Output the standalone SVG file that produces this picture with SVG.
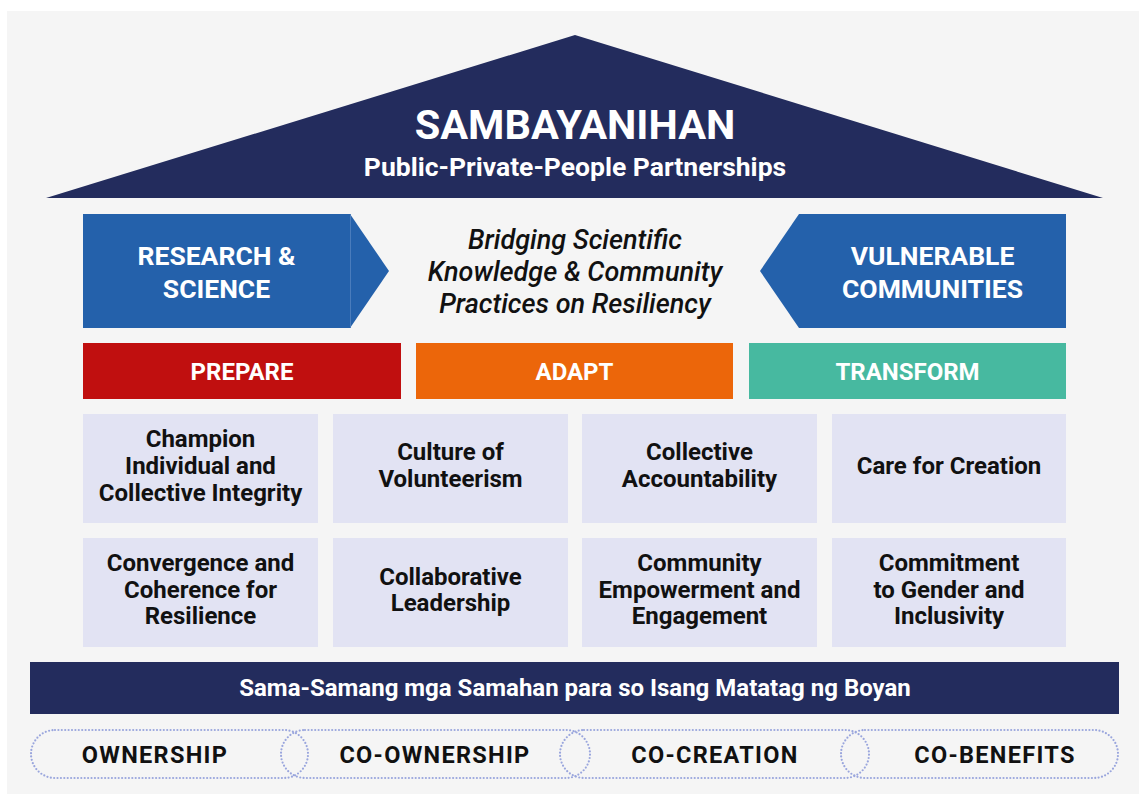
<svg xmlns="http://www.w3.org/2000/svg" width="1139" height="794" viewBox="0 0 1139 794">
<style>
text{font-family:Roboto,"Liberation Sans",sans-serif;font-weight:700;text-anchor:middle}
.w{fill:#ffffff}
.k{fill:#111111}
.cell{fill:#e2e3f3}
.ct{font-size:24px;fill:#111111}
.bt{font-size:26.5px;fill:#ffffff}
.pt{font-size:24px;fill:#ffffff}
.it{font-size:27px;font-style:italic;font-weight:500;fill:#111111}
.pill{fill:none;stroke:#9aa6dd;stroke-width:2.2;stroke-linecap:round;stroke-dasharray:0 3.4}
.pl{font-size:23.5px;fill:#111111;letter-spacing:1.3px}
</style>
<rect x="0" y="0" width="1139" height="794" fill="#ffffff"/>
<rect x="7" y="11" width="1132" height="783" fill="#f5f5f5"/>

<g id="roof">
<polygon points="575,35 1103,198 46,198" fill="#232c5d"/>
<text x="575" y="139" class="w" style="font-size:41.5px">SAMBAYANIHAN</text>
<text x="575" y="176" class="w" style="font-size:26.5px">Public-Private-People Partnerships</text>
</g>

<g id="research">
<rect x="83" y="214" width="267" height="114" fill="#2461ab"/>
<polygon points="350,214 389,271 350,328" fill="#2461ab"/>
<line x1="350.5" y1="214" x2="350.5" y2="328" stroke="#4a7cbc" stroke-width="1"/>
<text x="216.5" y="265" class="bt">RESEARCH &amp;</text>
<text x="216.5" y="298" class="bt">SCIENCE</text>
</g>

<g id="bridging">
<text x="575" y="249" class="it">Bridging Scientific</text>
<text x="575" y="281" class="it">Knowledge &amp; Community</text>
<text x="575" y="313" class="it">Practices on Resiliency</text>
</g>

<g id="vulnerable">
<polygon points="799,214 1066,214 1066,328 799,328 760,271" fill="#2461ab"/>
<text x="932.5" y="265" class="bt">VULNERABLE</text>
<text x="932.5" y="298" class="bt">COMMUNITIES</text>
</g>

<g id="prepare">
<rect x="83" y="343" width="318" height="56" fill="#c00f0f"/>
<text x="242" y="380" class="pt">PREPARE</text>
</g>
<g id="adapt">
<rect x="416" y="343" width="317" height="56" fill="#ec660a"/>
<text x="574.5" y="380" class="pt">ADAPT</text>
</g>
<g id="transform">
<rect x="749" y="343" width="317" height="56" fill="#47b9a0"/>
<text x="907.5" y="380" class="pt">TRANSFORM</text>
</g>

<g id="cell-integrity">
<rect x="83" y="414" width="235" height="109" class="cell"/>
<text x="200.5" y="447" class="ct">Champion</text>
<text x="200.5" y="474" class="ct">Individual and</text>
<text x="200.5" y="501" class="ct">Collective Integrity</text>
</g>
<g id="cell-volunteerism">
<rect x="333" y="414" width="235" height="109" class="cell"/>
<text x="450.5" y="460" class="ct">Culture of</text>
<text x="450.5" y="487" class="ct">Volunteerism</text>
</g>
<g id="cell-accountability">
<rect x="582" y="414" width="235" height="109" class="cell"/>
<text x="699.5" y="460" class="ct">Collective</text>
<text x="699.5" y="487" class="ct">Accountability</text>
</g>
<g id="cell-creation">
<rect x="832" y="414" width="234" height="109" class="cell"/>
<text x="949" y="474" class="ct">Care for Creation</text>
</g>

<g id="cell-convergence">
<rect x="83" y="538" width="235" height="109" class="cell"/>
<text x="200.5" y="571" class="ct">Convergence and</text>
<text x="200.5" y="597.5" class="ct">Coherence for</text>
<text x="200.5" y="624" class="ct">Resilience</text>
</g>
<g id="cell-leadership">
<rect x="333" y="538" width="235" height="109" class="cell"/>
<text x="450.5" y="585" class="ct">Collaborative</text>
<text x="450.5" y="611" class="ct">Leadership</text>
</g>
<g id="cell-empowerment">
<rect x="582" y="538" width="235" height="109" class="cell"/>
<text x="699.5" y="571" class="ct">Community</text>
<text x="699.5" y="597.5" class="ct">Empowerment and</text>
<text x="699.5" y="624" class="ct">Engagement</text>
</g>
<g id="cell-gender">
<rect x="832" y="538" width="234" height="109" class="cell"/>
<text x="949" y="571" class="ct">Commitment</text>
<text x="949" y="597.5" class="ct">to Gender and</text>
<text x="949" y="624" class="ct">Inclusivity</text>
</g>

<g id="foundation">
<rect x="30" y="662" width="1089" height="52" fill="#232c5d"/>
<text x="575" y="696" class="w" style="font-size:24px">Sama-Samang mga Samahan para so Isang Matatag ng Boyan</text>
</g>

<g id="pill-ownership">
<rect x="31" y="730" width="277" height="48" rx="24" class="pill"/>
<text x="155" y="763" class="pl">OWNERSHIP</text>
</g>
<g id="pill-coownership">
<rect x="281" y="730" width="309" height="48" rx="24" class="pill"/>
<text x="435" y="763" class="pl">CO-OWNERSHIP</text>
</g>
<g id="pill-cocreation">
<rect x="560" y="730" width="309" height="48" rx="24" class="pill"/>
<text x="715" y="763" class="pl">CO-CREATION</text>
</g>
<g id="pill-cobenefits">
<rect x="841" y="730" width="277" height="48" rx="24" class="pill"/>
<text x="995" y="763" class="pl">CO-BENEFITS</text>
</g>
</svg>
